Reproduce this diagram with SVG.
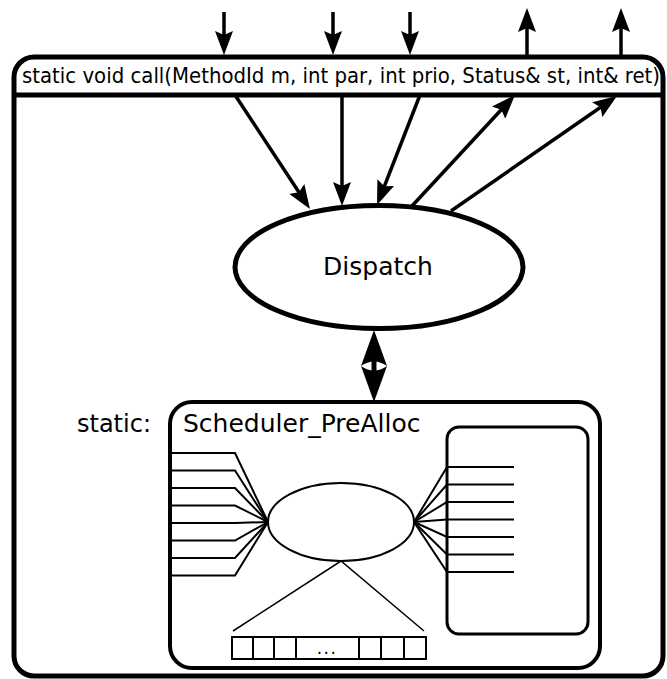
<svg xmlns="http://www.w3.org/2000/svg" width="667" height="679" viewBox="0 0 667 679">
<style>
text{font-family:"DejaVu Sans","Noto Sans",sans-serif;fill:#000}
.cond{font-family:"DejaVu Sans Condensed","DejaVu Sans",sans-serif;font-stretch:condensed}
.thin{fill:none;stroke:#000;stroke-width:2}
.arr{fill:none;stroke:#000;stroke-width:3.5}
</style>
<defs>
<marker id="ah" viewBox="0 0 24 18" refX="12" refY="9" markerWidth="24" markerHeight="18" markerUnits="userSpaceOnUse" orient="auto">
<path d="M0,0 L24,9 L0,18 L4,9 Z" fill="#000"/>
</marker>
</defs>
<rect width="667" height="679" fill="#fff"/>
<g id="call-box">
<rect x="14" y="57" width="649" height="619" rx="20" fill="#fff" stroke="#000" stroke-width="5"/>
<line x1="14" y1="95" x2="663" y2="95" stroke="#000" stroke-width="5"/>
<text class="cond" x="22" y="83" font-size="21" textLength="638" lengthAdjust="spacingAndGlyphs">static void call(MethodId m, int par, int prio, Status&amp; st, int&amp; ret)</text>
</g>
<g id="dispatch">
<ellipse cx="379" cy="267" rx="144" ry="61.5" fill="#fff" stroke="#000" stroke-width="5"/>
<text x="378" y="275" font-size="25" text-anchor="middle">Dispatch</text>
</g>
<g id="scheduler">
<text x="77" y="432" font-size="24">static:</text>
<rect x="170" y="402" width="430" height="266" rx="22" fill="#fff" stroke="#000" stroke-width="4"/>
<text x="183" y="432" font-size="25">Scheduler_PreAlloc</text>
<rect x="447" y="427" width="141" height="207" rx="12" fill="none" stroke="#000" stroke-width="3"/>
<ellipse cx="341" cy="522" rx="73" ry="39" class="thin"/>
<g class="thin">
<polyline points="170,453 235,453 268,522"/>
<polyline points="170,470.5 235,470.5 268,522"/>
<polyline points="170,488 235,488 268,522"/>
<polyline points="170,505.5 235,505.5 268,522"/>
<polyline points="170,523 235,523 268,522"/>
<polyline points="170,540.5 235,540.5 268,522"/>
<polyline points="170,558 235,558 268,522"/>
<polyline points="170,575.5 235,575.5 268,522"/>
<polyline points="414,522 447,467 514,467"/>
<polyline points="414,522 447,484.5 514,484.5"/>
<polyline points="414,522 447,502 514,502"/>
<polyline points="414,522 447,519.5 514,519.5"/>
<polyline points="414,522 447,537 514,537"/>
<polyline points="414,522 447,554.5 514,554.5"/>
<polyline points="414,522 447,572 514,572"/>
</g>
<polyline points="233,631 341,561 424,631" fill="none" stroke="#000" stroke-width="1.5"/>
<rect x="232" y="637" width="194" height="22" class="thin"/>
<g class="thin">
<line x1="253" y1="637" x2="253" y2="659"/>
<line x1="274" y1="637" x2="274" y2="659"/>
<line x1="296" y1="637" x2="296" y2="659"/>
<line x1="359" y1="637" x2="359" y2="659"/>
<line x1="381" y1="637" x2="381" y2="659"/>
<line x1="404" y1="637" x2="404" y2="659"/>
</g>
<text x="327" y="654" font-size="17" letter-spacing="1.5" text-anchor="middle">...</text>
</g>
<g id="connectors">
<g class="arr" marker-end="url(#ah)">
<line x1="224" y1="12" x2="224" y2="43"/>
<line x1="333" y1="12" x2="333" y2="43"/>
<line x1="410" y1="12" x2="410" y2="43"/>
<line x1="527" y1="57" x2="527" y2="20"/>
<line x1="621" y1="57" x2="621" y2="20"/>
<line x1="235" y1="95" x2="303.4" y2="199"/>
<line x1="342" y1="95" x2="342" y2="194"/>
<line x1="420" y1="95" x2="381.4" y2="193.8"/>
<line x1="412" y1="206" x2="506.8" y2="103.8"/>
<line x1="451" y1="211" x2="607.1" y2="102.8"/>
</g>
<g id="double-arrow">
<line x1="374" y1="340" x2="374" y2="392" stroke="#000" stroke-width="5"/>
<path d="M374,330 L387,366 Q374,357 361,366 Z" fill="#000"/>
<path d="M374,402 L387,366 Q374,375 361,366 Z" fill="#000"/>
</g>
</g>
</svg>
